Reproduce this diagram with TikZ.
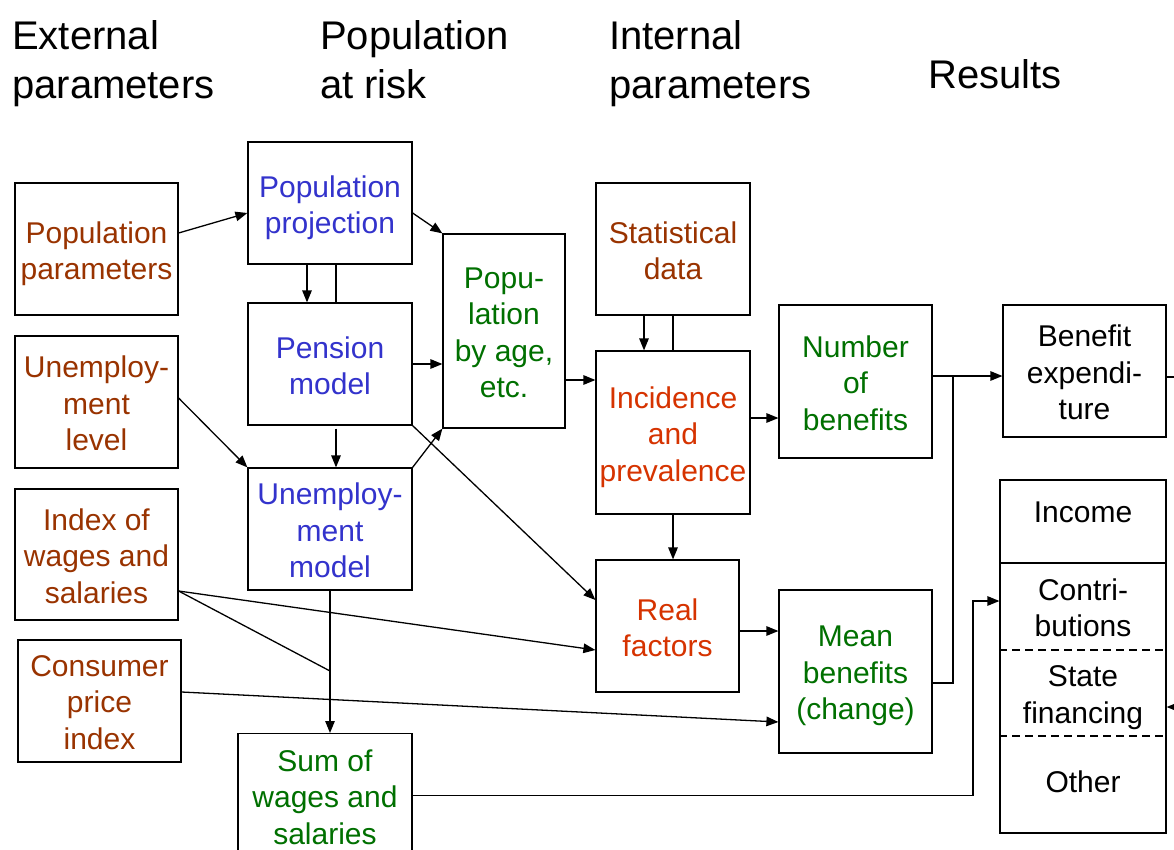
\documentclass[tikz,border=0pt]{standalone}
\usepackage{fontspec}
\setmainfont{Liberation Sans}
\usetikzlibrary{arrows.meta}
\definecolor{brn}{RGB}{153,51,0}
\definecolor{blu}{RGB}{51,51,204}
\definecolor{grn}{RGB}{0,112,0}
\definecolor{orn}{RGB}{214,51,0}
\newcommand{\botstrut}{\rule[-7pt]{0pt}{7pt}}
\begin{document}
\begin{tikzpicture}[x=1pt,y=-1pt,
  txt/.style={align=center, inner sep=0pt, font=\fontsize{30}{36.5}\selectfont,
    execute at end node=\botstrut},
  lbl/.style={txt, yshift=-5pt},
  box/.style={draw, line width=1.2pt, inner sep=0pt},
  arr/.style={line width=1.3pt, -{Triangle[length=12pt,width=9.5pt]}},
  ln/.style={line width=1.3pt},
  sep/.style={line width=1.2pt},
  hdr/.style={align=left, inner sep=0pt, font=\fontsize{40}{49}\selectfont}]
\useasboundingbox[fill=white] (0,0) rectangle (1174,850);

% headers
\node[hdr, anchor=north west] (h1) at (12,20) {External\\parameters};
\node[hdr, anchor=north west] (h2) at (320,20) {Population\\at risk};
\node[hdr, anchor=north west] (h3) at (609,20) {Internal\\parameters};
\node[hdr, anchor=base west] (h4) at (928,89) {Results};

% boxes
\node[box, minimum width=163pt, minimum height=132pt,
  label={[lbl,text=brn]center:{Population\\parameters}}] (pp) at (96.5,249) {};
\node[box, minimum width=163pt, minimum height=132pt,
  label={[lbl,text=brn]center:{Unemploy-\\ment\\level}}] (ul) at (96.5,402) {};
\node[box, minimum width=163pt, minimum height=131pt,
  label={[lbl,text=brn]center:{Index of\\wages and\\salaries}}] (iw) at (96.5,554.5) {};
\node[box, minimum width=163pt, minimum height=122pt,
  label={[lbl,text=brn]center:{Consumer\\price\\index}}] (cpi) at (99.5,701) {};

\node[box, minimum width=164pt, minimum height=122pt,
  label={[lbl,text=blu]center:{Population\\projection}}] (proj) at (330,203) {};
\node[box, minimum width=164pt, minimum height=122pt,
  label={[lbl,text=blu]center:{Pension\\model}}] (pen) at (330,364) {};
\node[box, minimum width=164pt, minimum height=122pt,
  label={[lbl,text=blu]center:{Unemploy-\\ment\\model}}] (um) at (330,529) {};
\node[box, minimum width=174pt, minimum height=150pt, anchor=north] (sw) at (325,733) {};
\node[txt, text=grn, yshift=-3.5pt] (swt) at (325,797) {Sum of\\wages and\\salaries};

\node[box, minimum width=122pt, minimum height=194pt,
  label={[lbl,text=grn]center:{Popu-\\lation\\by age,\\etc.}}] (age) at (504,331) {};

\node[box, minimum width=154pt, minimum height=132pt,
  label={[lbl,text=brn]center:{Statistical\\data}}] (sd) at (673,249) {};
\node[box, minimum width=154pt, minimum height=163pt,
  label={[lbl,text=orn]center:{Incidence\\and\\prevalence}}] (inc) at (673,432.5) {};
\node[box, minimum width=143pt, minimum height=132pt,
  label={[lbl,text=orn]center:{Real\\factors}}] (rf) at (667.5,626) {};

\node[box, minimum width=153pt, minimum height=153pt,
  label={[lbl,text=grn]center:{Number\\of\\benefits}}] (nb) at (855.5,381.5) {};
\node[box, minimum width=153pt, minimum height=163pt,
  label={[lbl,text=grn]center:{Mean\\benefits\\(change)}}] (mb) at (855.5,671.5) {};

\node[box, minimum width=163pt, minimum height=132pt,
  label={[lbl]center:{Benefit\\expendi-\\ture}}] (be) at (1084.5,371) {};

\node[box, minimum width=166pt, minimum height=353pt] (res) at (1083,656.5) {};
\node[txt, yshift=-3.5pt] (incm) at (1083,512) {Income};
\node[txt, yshift=-3.5pt] (contr) at (1083,607.5) {Contri-\\butions};
\node[txt, yshift=-3.5pt] (state) at (1083,694.5) {State\\financing};
\node[txt, yshift=-3.5pt] (oth) at (1083,782) {Other};
\coordinate (s1) at (1083,563);
\coordinate (s2) at (1083,650);
\coordinate (s3) at (1083,736);
\draw[sep] (res.west |- s1) -- (res.east |- s1);
\draw[sep, dash pattern=on 8pt off 5pt] (res.west |- s2) -- (res.east |- s2);
\draw[sep, dash pattern=on 8pt off 5pt] (res.west |- s3) -- (res.east |- s3);

% connectors
\draw[arr] ([yshift=16pt]pp.east) -- ([yshift=-10pt]proj.west);
\draw[arr] ([yshift=-10pt]proj.east) -- (age.north west);
\draw[arr] ([xshift=-23pt]proj.south) -- ([xshift=-23pt]pen.north);
\draw[ln] ([xshift=6pt]proj.south) -- ([xshift=6pt]pen.north);
\draw[arr] (pen.east) -- (pen.east -| age.west);
\draw[arr] ([xshift=6pt,yshift=-3pt]pen.south) -- ([xshift=6pt]um.north);
\draw[arr] ([yshift=4pt]ul.east) -- (um.north west);
\draw[arr] (um.north east) -- (age.south west);
\draw[arr] (pen.south east) -- ([yshift=26pt]rf.west);

\coordinate (a1) at ([yshift=-49pt]age.east);
\draw[arr] (a1) -- (a1 -| inc.west);
\draw[arr] ([xshift=-29pt]sd.south) -- ([xshift=-29pt]inc.north);
\draw[ln] (sd.south) -- (inc.north);
\coordinate (a2) at ([yshift=14.5pt]inc.east);
\draw[arr] (a2) -- (a2 -| nb.west);
\draw[arr] (inc.south) -- (inc.south |- rf.north);
\coordinate (a3) at ([yshift=-5pt]rf.east);
\draw[arr] (a3) -- (a3 -| mb.west);

\coordinate (j) at (953,376);
\draw[arr] ([yshift=5.5pt]nb.east) -- (j -| be.west);
\draw[ln] ([yshift=-11.5pt]mb.east) -| (j);

\coordinate (off) at (1190,707);
\draw[arr] ([yshift=-6pt]be.east) -| (off) -- (off -| res.east);

\coordinate (k) at (973,601);
\draw[arr] ([yshift=13pt]sw.east) -| (k) -- (k -| res.west);

\coordinate (iwo) at ([yshift=-36.5pt]iw.east);
\coordinate (m) at (330,671);
\draw[arr] (iwo) -- ([yshift=-24pt]rf.west);
\draw[ln] (iwo) -- (m);
\draw[arr] (um.south) -- (um.south |- sw.north);
\draw[arr] ([yshift=9pt]cpi.east) -- ([yshift=-50.5pt]mb.west);
\end{tikzpicture}
\end{document}
